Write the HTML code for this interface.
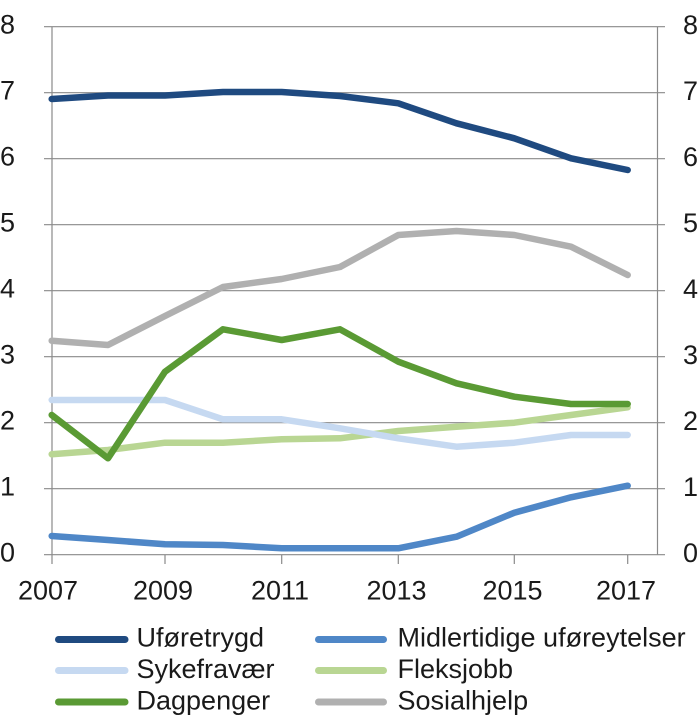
<!DOCTYPE html>
<html>
<head>
<meta charset="utf-8">
<style>
html,body{margin:0;padding:0;background:#fff;}
svg{display:block;}
text{font-family:"Liberation Sans",Arial,sans-serif;fill:#1a1a1a;}
</style>
</head>
<body>
<svg width="700" height="727" viewBox="0 0 700 727" xmlns="http://www.w3.org/2000/svg">
  <!-- gridlines -->
  <g stroke="#8a8a8a" stroke-width="1.2" fill="none">
    <line x1="44" y1="26.7" x2="665" y2="26.7"/>
    <line x1="44" y1="92.7" x2="665" y2="92.7"/>
    <line x1="44" y1="158.7" x2="665" y2="158.7"/>
    <line x1="44" y1="224.7" x2="665" y2="224.7"/>
    <line x1="44" y1="290.7" x2="665" y2="290.7"/>
    <line x1="44" y1="356.7" x2="665" y2="356.7"/>
    <line x1="44" y1="422.7" x2="665" y2="422.7"/>
    <line x1="44" y1="488.7" x2="665" y2="488.7"/>
    <line x1="44" y1="554.7" x2="665" y2="554.7"/>
    <!-- axes -->
    <line x1="52" y1="26.7" x2="52" y2="564"/>
    <line x1="657.5" y1="26.7" x2="657.5" y2="554.7"/>
    <!-- x ticks -->
    <line x1="165" y1="554.7" x2="165" y2="564"/>
    <line x1="281.7" y1="554.7" x2="281.7" y2="564"/>
    <line x1="398.3" y1="554.7" x2="398.3" y2="564"/>
    <line x1="514.3" y1="554.7" x2="514.3" y2="564"/>
    <line x1="627.7" y1="554.7" x2="627.7" y2="564"/>
  </g>

  <!-- left y labels -->
  <g font-size="27">
    <text x="0" y="33.5">8</text>
    <text x="0" y="99.5">7</text>
    <text x="0" y="165.5">6</text>
    <text x="0" y="231.5">5</text>
    <text x="0" y="297.5">4</text>
    <text x="0" y="363.5">3</text>
    <text x="0" y="429.5">2</text>
    <text x="0" y="495.5">1</text>
    <text x="0" y="561.5">0</text>
  </g>
  <!-- right y labels -->
  <g font-size="27">
    <text x="683" y="34">8</text>
    <text x="683" y="100">7</text>
    <text x="683" y="166">6</text>
    <text x="683" y="232">5</text>
    <text x="683" y="298">4</text>
    <text x="683" y="364">3</text>
    <text x="683" y="430">2</text>
    <text x="683" y="496">1</text>
    <text x="683" y="562">0</text>
  </g>
  <!-- x labels -->
  <g font-size="27" text-anchor="middle">
    <text x="48" y="599.5">2007</text>
    <text x="163" y="599.5">2009</text>
    <text x="280" y="599.5">2011</text>
    <text x="396.5" y="599.5">2013</text>
    <text x="512.5" y="599.5">2015</text>
    <text x="626" y="599.5">2017</text>
  </g>

  <!-- series -->
  <g fill="none" stroke-width="6.5" stroke-linejoin="round" stroke-linecap="round">
    <!-- Sosialhjelp -->
    <polyline stroke="#b0b0b0" points="51.7,340.7 108,345 165,316 223,287 281.7,279 340,267 398.3,235 456.5,231 514.3,235 571,246.7 627.7,275"/>
    <!-- Fleksjobb -->
    <polyline stroke="#b9d693" points="51.7,454.3 108,450 165,442.7 223,442.7 281.7,439.3 340,438.3 398.3,431 456.5,426.7 514.3,422.7 571,415 627.7,407.3"/>
    <!-- Sykefravær -->
    <polyline stroke="#c6d9f1" points="51.7,400 108,400 165,400 223,419.3 281.7,419.3 340,428.3 398.3,438.3 456.5,446.7 514.3,442.7 571,435 627.7,435"/>
    <!-- Dagpenger -->
    <polyline stroke="#5a9a34" points="51.7,415 108,458.3 165,371.7 223,329.3 281.7,340 340,329.3 398.3,361.7 456.5,383.3 514.3,396.7 571,404 627.7,404"/>
    <!-- Midlertidige uføreytelser -->
    <polyline stroke="#4f87c7" points="51.7,536 108,540 165,544.3 223,545 281.7,548.3 340,548.3 398.3,548.3 456.5,536.7 514.3,512.7 571,497.3 627.7,485.7"/>
    <!-- Uføretrygd -->
    <polyline stroke="#1f4a80" points="51.7,99 108,95.5 165,95.5 223,92 281.7,92 340,96 398.3,103.3 456.5,123.3 514.3,138.3 571,158.3 627.7,170"/>
  </g>

  <!-- legend -->
  <g stroke-width="7" stroke-linecap="round">
    <line x1="58.5" y1="639.5" x2="125" y2="639.5" stroke="#1f4a80"/>
    <line x1="58.5" y1="670.5" x2="125" y2="670.5" stroke="#c6d9f1"/>
    <line x1="58.5" y1="702" x2="125" y2="702" stroke="#5a9a34"/>
    <line x1="318.5" y1="639.5" x2="383.5" y2="639.5" stroke="#4f87c7"/>
    <line x1="318.5" y1="670.5" x2="383.5" y2="670.5" stroke="#b9d693"/>
    <line x1="318.5" y1="702" x2="383.5" y2="702" stroke="#b0b0b0"/>
  </g>
  <g font-size="27">
    <text x="136.5" y="646.5">Uføretrygd</text>
    <text x="136.5" y="678">Sykefravær</text>
    <text x="136.5" y="709.5">Dagpenger</text>
    <text x="397.5" y="646.5">Midlertidige uføreytelser</text>
    <text x="397.5" y="678">Fleksjobb</text>
    <text x="397.5" y="709.5">Sosialhjelp</text>
  </g>
</svg>
</body>
</html>
